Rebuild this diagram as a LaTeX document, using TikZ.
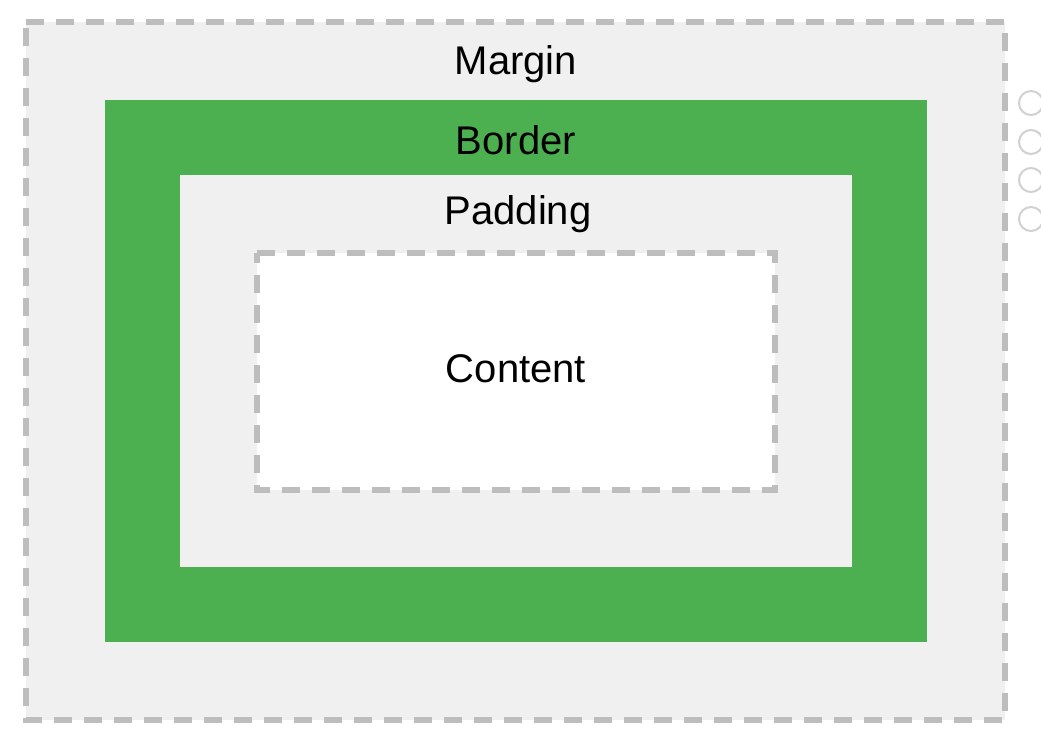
\documentclass[tikz,border=0pt]{standalone}
\usepackage{fontspec}
\setmainfont{Liberation Sans}
\definecolor{boxgray}{HTML}{F0F0F0}
\definecolor{dashgray}{HTML}{BDBDBD}
\definecolor{bordergreen}{HTML}{4CAF50}
\tikzset{
  dashbox/.style={draw=dashgray, line width=5.5pt, dash pattern=on 18pt off 12pt},
  boxlabel/.style={font=\fontsize{40}{44}\selectfont, text=black, inner sep=0pt},
  dot/.style={circle, fill=white, draw=black!18, line width=2pt, minimum size=24pt, inner sep=0pt}
}
\begin{document}
\begin{tikzpicture}[x=1pt, y=-1pt]
			\useasboundingbox (0,0) rectangle (1041,742);
			\fill[white] (0,0) rectangle (1041,742);
			
			% margin
			\fill[boxgray] (26,22) rectangle (1005,720);
			\draw[dashbox] (26,22) -- (1005,22) -- (1005,720) -- (26,720) -- cycle;
			% border and padding
			\fill[bordergreen] (105,100) rectangle (927,642);
			\fill[boxgray] (180,175) rectangle (852,567);
			% content
			\fill[white] (257,253) rectangle (775,490);
			\draw[dashbox] (257,253) -- (775,253) -- (775,490) -- (257,490) -- cycle;
			
			\node[boxlabel] (margin) at (516,64) {Margin};
			\node[boxlabel] (border) at (516,140) {Border};
			\node[boxlabel] (padding) at (518,214) {Padding};
			\node[boxlabel] (content) at (516,369) {Content};
			
			% dots on the right edge
			\foreach \y in {103,142,180,219}
				\node[dot] at (1031,\y) {};
		\end{tikzpicture}
\end{document}
